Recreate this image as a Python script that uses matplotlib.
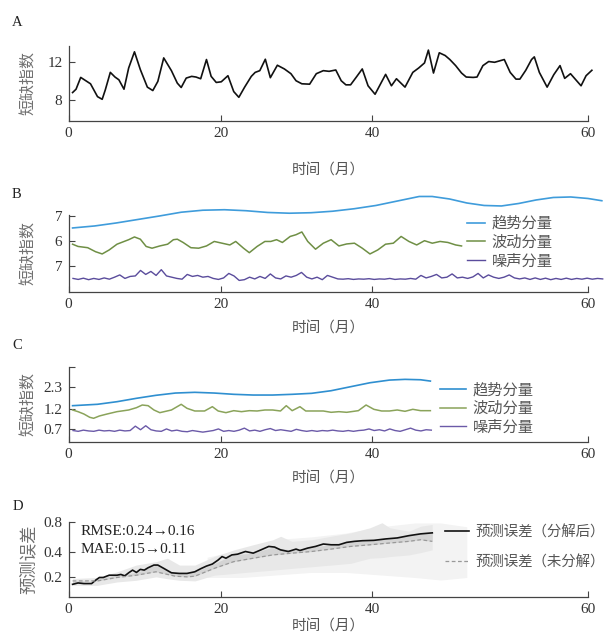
import matplotlib.pyplot as plt
import numpy as np

plt.rcParams['font.family'] = ['Liberation Serif', 'DejaVu Serif']
CJK = ['Noto Sans CJK SC', 'DejaVu Sans']

# x ticks as printed in the original (spacing there is uneven)
xtick_pos = [0, 17.6, 35.1, 60]
xtick_labels = ['0', '20', '40', '60']

# ---- A: raw shortage index
a_month = [0.45, 0.85, 1.39, 1.98, 2.52, 3.33, 3.87, 4.23, 4.81, 5.35,
           5.80, 6.39, 6.93, 7.60, 8.28, 9.09, 9.72, 10.30, 10.98, 11.87,
           12.55, 13.00, 13.58, 14.21, 14.71, 15.25, 15.92, 16.46, 17.05, 17.63,
           18.40, 19.07, 19.66, 20.33, 21.10, 21.55, 22.08, 22.72, 23.30, 24.11,
           24.92, 25.68, 26.27, 26.94, 27.84, 28.61, 29.42, 30.09, 30.86, 31.49,
           32.03, 32.57, 33.24, 33.92, 34.59, 35.40, 36.08, 36.62, 37.29, 37.87,
           38.86, 39.76, 40.44, 41.11, 41.56, 42.15, 42.82, 43.50, 44.04, 44.71,
           45.39, 45.93, 46.74, 47.18, 47.86, 48.53, 49.21, 50.33, 51.01, 51.68,
           52.13, 52.81, 53.48, 53.80, 54.38, 55.28, 56.05, 56.77, 57.31, 57.98,
           59.20, 59.78, 60.45]
a_index = [8.78, 9.13, 10.37, 10.02, 9.70, 8.35, 8.07, 9.06, 10.90, 10.41,
           10.12, 9.13, 11.36, 13.06, 11.19, 9.35, 8.99, 9.95, 12.42, 11.08,
           9.77, 9.31, 10.30, 10.48, 10.41, 10.23, 12.25, 10.48, 9.84, 9.91,
           10.55, 8.88, 8.28, 9.35, 10.48, 10.90, 11.08, 12.28, 10.34, 11.65,
           11.26, 10.76, 10.02, 9.70, 9.66, 10.76, 11.08, 11.01, 11.15, 10.02,
           9.59, 9.59, 10.41, 11.26, 9.49, 8.60, 9.77, 10.69, 9.49, 10.23,
           9.35, 10.90, 11.36, 11.89, 13.24, 10.83, 12.96, 12.67, 12.25, 11.61,
           10.83, 10.41, 10.37, 10.41, 11.61, 12.04, 11.96, 12.25, 10.90, 10.19,
           10.19, 11.12, 12.25, 12.53, 10.90, 9.35, 10.66, 11.61, 10.27, 10.76,
           9.49, 10.55, 11.12]
a_yticks = [8, 12]
a_ylabels = ['8', '12']

# ---- B: decomposition
b_trend_month = [0.45, 3, 5.5, 8, 10.5, 13, 15.5, 18, 20.5, 23, 25.5, 28, 30.5, 33,
                 35.5, 38, 40.5, 42, 44, 46, 48, 50, 52, 54, 56, 58, 60, 61.6]
b_trend = [6.52, 6.60, 6.72, 6.86, 7.00, 7.15, 7.23, 7.25, 7.21, 7.14, 7.11, 7.13, 7.19, 7.29,
           7.42, 7.60, 7.78, 7.78, 7.68, 7.52, 7.42, 7.40, 7.50, 7.64, 7.74, 7.76, 7.70, 7.61]
b_wave_month = [0.45, 1.08, 2.20, 3.10, 3.87, 4.68, 5.58, 6.93, 7.60, 8.28,
                8.95, 9.63, 10.53, 11.43, 12.10, 12.55, 13.22, 14.12, 15.02, 15.92,
                16.82, 17.72, 18.62, 19.30, 20.20, 20.87, 21.77, 22.67, 23.35, 24.02,
                24.69, 25.59, 26.27, 26.94, 27.62, 28.52, 29.42, 30.32, 31.22, 32.12,
                33.02, 33.92, 34.81, 35.71, 36.61, 37.51, 38.41, 39.31, 40.21, 41.11,
                42.01, 42.91, 43.81, 44.71, 45.39]
b_wave = [5.87, 5.78, 5.73, 5.57, 5.48, 5.64, 5.87, 6.05, 6.16, 6.07,
          5.78, 5.71, 5.80, 5.87, 6.05, 6.07, 5.94, 5.73, 5.71, 5.80,
          5.98, 5.91, 5.84, 5.98, 5.71, 5.53, 5.78, 5.98, 5.98, 6.05,
          5.94, 6.18, 6.25, 6.36, 5.98, 5.67, 5.91, 6.05, 5.80, 5.88,
          5.91, 5.71, 5.48, 5.64, 5.87, 5.91, 6.18, 5.98, 5.84, 6.01,
          5.91, 5.98, 5.94, 5.84, 5.80]
b_noise = [4.50, 4.46, 4.51, 4.45, 4.50, 4.46, 4.52, 4.47, 4.55, 4.64,
           4.50, 4.58, 4.60, 4.82, 4.66, 4.78, 4.62, 4.85, 4.60, 4.55,
           4.50, 4.47, 4.66, 4.58, 4.62, 4.55, 4.58, 4.50, 4.46, 4.52,
           4.70, 4.60, 4.42, 4.45, 4.55, 4.48, 4.58, 4.50, 4.68, 4.52,
           4.48, 4.60, 4.55, 4.62, 4.74, 4.55, 4.48, 4.55, 4.45, 4.62,
           4.55, 4.48, 4.47, 4.49, 4.46, 4.48, 4.47, 4.49, 4.46, 4.48,
           4.47, 4.50, 4.46, 4.48, 4.47, 4.50, 4.47, 4.62, 4.52, 4.58,
           4.66, 4.52, 4.55, 4.68, 4.52, 4.55, 4.50, 4.56, 4.70, 4.52,
           4.64, 4.55, 4.50, 4.55, 4.64, 4.52, 4.48, 4.52, 4.46, 4.52,
           4.46, 4.51, 4.45, 4.50, 4.46, 4.51, 4.46, 4.50, 4.47, 4.51,
           4.47, 4.50, 4.48]
b_noise_month = 0.5 + 0.6 * np.arange(len(b_noise))
b_yticks = [5, 6, 7]
b_ylabels = ['7', '6', '7']

# ---- C: decomposition (second series)
c_trend_month = [0.45, 3.33, 5.58, 7.83, 10.08, 12.33, 14.57, 16.82, 19.07, 21.32,
                 23.57, 25.82, 28.07, 30.31, 32.56, 34.81, 37.06, 38.86, 40.66, 41.79]
c_trend = [1.283, 1.318, 1.383, 1.468, 1.543, 1.600, 1.618, 1.600, 1.568, 1.550,
           1.550, 1.568, 1.593, 1.658, 1.758, 1.858, 1.925, 1.943, 1.933, 1.900]
c_wave_month = [0.45, 1.08, 1.75, 2.43, 2.88, 3.55, 4.45, 5.58, 6.93, 7.83,
                8.50, 9.18, 9.85, 10.53, 11.87, 13.00, 13.67, 14.57, 15.70, 16.60,
                17.27, 18.17, 19.07, 19.97, 20.87, 21.77, 22.67, 23.57, 24.47, 25.14,
                25.82, 26.72, 27.39, 28.07, 29.42, 30.32, 31.22, 32.12, 33.47, 34.36,
                35.26, 36.16, 37.06, 37.96, 38.86, 39.76, 40.66, 41.79]
c_wave = [1.175, 1.133, 1.075, 0.992, 0.967, 1.025, 1.075, 1.133, 1.175, 1.233,
          1.300, 1.283, 1.175, 1.108, 1.175, 1.317, 1.217, 1.150, 1.150, 1.258,
          1.150, 1.108, 1.158, 1.133, 1.158, 1.150, 1.175, 1.175, 1.150, 1.283,
          1.158, 1.258, 1.150, 1.150, 1.150, 1.117, 1.133, 1.117, 1.158, 1.300,
          1.192, 1.150, 1.150, 1.175, 1.142, 1.192, 1.158, 1.158]
c_noise = [0.66, 0.64, 0.67, 0.65, 0.64, 0.67, 0.65, 0.66, 0.64, 0.67,
           0.65, 0.66, 0.77, 0.68, 0.78, 0.68, 0.65, 0.64, 0.70, 0.65,
           0.67, 0.64, 0.63, 0.66, 0.64, 0.62, 0.64, 0.66, 0.70, 0.64,
           0.66, 0.64, 0.67, 0.72, 0.65, 0.67, 0.64, 0.68, 0.71, 0.66,
           0.68, 0.66, 0.64, 0.69, 0.66, 0.64, 0.66, 0.64, 0.66, 0.65,
           0.67, 0.65, 0.64, 0.66, 0.64, 0.66, 0.67, 0.70, 0.66, 0.68,
           0.65, 0.70, 0.66, 0.64, 0.68, 0.72, 0.67, 0.65, 0.68, 0.67]
c_noise_month = 0.5 + 0.6 * np.arange(len(c_noise))
c_yticks = [0.7, 1.2, 1.75, 2.26]
c_ylabels = ['0.7', '1.2', '2.3', '']

comp_labels = ['趋势分量', '波动分量', '噪声分量']

# ---- D: forecast error
d_month = [0.45, 1.08, 1.75, 2.65, 3.10, 3.55, 4.00, 4.68, 5.58, 6.03,
           6.48, 6.93, 7.38, 7.83, 8.28, 8.73, 9.18, 9.85, 10.30, 10.98,
           11.87, 12.77, 13.67, 14.57, 15.25, 15.92, 16.60, 17.27, 17.72, 18.17,
           18.85, 19.52, 20.42, 21.32, 22.22, 23.12, 23.79, 24.47, 25.37, 26.27,
           26.72, 27.62, 28.52, 29.42, 30.32, 31.22, 32.12, 33.02, 33.92, 35.26,
           36.61, 37.96, 39.31, 40.66, 42.01]
d_after = [0.146, 0.157, 0.152, 0.152, 0.178, 0.200, 0.200, 0.218, 0.218, 0.224,
           0.213, 0.237, 0.258, 0.240, 0.264, 0.258, 0.277, 0.298, 0.298, 0.272,
           0.237, 0.232, 0.232, 0.245, 0.269, 0.290, 0.306, 0.338, 0.365, 0.352,
           0.378, 0.384, 0.405, 0.392, 0.418, 0.445, 0.440, 0.418, 0.405, 0.424,
           0.413, 0.432, 0.445, 0.464, 0.458, 0.458, 0.477, 0.485, 0.490, 0.493,
           0.504, 0.512, 0.530, 0.544, 0.552]
d_before_month = [0.45, 3.33, 5.58, 7.83, 10.08, 12.32, 13.67, 14.57, 16.82, 19.07,
                  21.32, 23.57, 25.82, 28.07, 30.32, 32.57, 34.81, 37.06, 39.31, 40.66, 42.01]
d_before = [0.173, 0.173, 0.200, 0.218, 0.245, 0.210, 0.205, 0.210, 0.272, 0.325,
            0.352, 0.378, 0.392, 0.405, 0.424, 0.445, 0.458, 0.472, 0.485, 0.498, 0.485]
# the "after" error read at the "before" months, for the shaded gap between the two
d_after_at_before = [0.146, 0.190, 0.218, 0.240, 0.298, 0.235, 0.232, 0.245, 0.310, 0.380,
                     0.392, 0.440, 0.415, 0.440, 0.458, 0.480, 0.492, 0.506, 0.530, 0.544, 0.552]
band_month = [0.45, 3.3, 5.6, 7.8, 10.1, 11.4, 12.8, 14.6, 16.8, 19.1, 21.3, 23.6,
              24.5, 25.8, 28.1, 30.3, 32.6, 34.8, 36.2, 37.1, 39.3, 40.7, 42.0]
band_hi = [0.192, 0.200, 0.245, 0.298, 0.325, 0.352, 0.298, 0.298, 0.365, 0.418, 0.458, 0.498,
           0.525, 0.485, 0.498, 0.525, 0.552, 0.592, 0.632, 0.592, 0.565, 0.605, 0.618]
band_lo = [0.138, 0.138, 0.165, 0.178, 0.205, 0.190, 0.178, 0.173, 0.218, 0.232, 0.245, 0.258,
           0.264, 0.272, 0.285, 0.298, 0.312, 0.352, 0.357, 0.365, 0.378, 0.397, 0.418]
outer_month = [16, 20, 24, 28, 32, 36, 40, 43, 46]
outer_hi = [0.36, 0.42, 0.50, 0.52, 0.55, 0.60, 0.63, 0.63, 0.60]
outer_lo = [0.20, 0.20, 0.22, 0.24, 0.24, 0.22, 0.20, 0.18, 0.20]
d_yticks = [0.2, 0.4, 0.64]
d_ylabels = ['0.2', '0.4', '0.8']


def style(ax, ylim, yticks, ylabels, ylabel, xlabel_y, ysize=11.5):
    ax.set_xlim(0, 60)
    ax.set_ylim(*ylim)
    ax.spines['top'].set_visible(False)
    ax.spines['right'].set_visible(False)
    for s in ['left', 'bottom']:
        ax.spines[s].set_color('#444444')
        ax.spines[s].set_linewidth(0.9)
    ax.set_xticks(xtick_pos, xtick_labels)
    ax.set_yticks(yticks, ylabels)
    ax.tick_params(direction='in', length=4.5, width=0.8, color='#444444',
                   labelsize=11, labelcolor='#333333', pad=4.5)
    ax.set_ylabel(ylabel, family=CJK, fontsize=ysize, color='#707070')
    ax.yaxis.label.set_va('center')
    ax.yaxis.set_label_coords(-0.077, 0.5)
    ax.set_xlabel('时间（月）', family=CJK, fontsize=10.5, color='#555555')
    ax.xaxis.label.set_va('center')
    ax.xaxis.set_label_coords(0.5, xlabel_y)


def legend(ax, handles, anchor, hlen, lspace, size=11):
    leg = ax.legend(handles=handles, loc='upper left', bbox_to_anchor=anchor,
                    bbox_transform=fig.transFigure, frameon=False,
                    prop={'family': CJK, 'size': size}, handlelength=hlen,
                    handletextpad=0.45, labelspacing=lspace, borderpad=0,
                    borderaxespad=0)
    for t in leg.get_texts():
        t.set_color('#555555')


fig = plt.figure(figsize=(6.1, 6.36), dpi=100)
left, width = 0.1126, 0.8513

# A
ax_a = fig.add_axes([left, 0.8102, width, 0.1179])
ax_a.plot(a_month, a_index, color='#111111', lw=1.2, clip_on=False)
style(ax_a, (5.82, 13.7), a_yticks, a_ylabels, '短缺指数', -0.671)

# B
ax_b = fig.add_axes([left, 0.5414, width, 0.1206])
l1, = ax_b.plot(b_trend_month, b_trend, color='#3f9cdb', lw=1.2, clip_on=False, label=comp_labels[0])
l2, = ax_b.plot(b_wave_month, b_wave, color='#6f8f45', lw=1.1, clip_on=False, label=comp_labels[1])
l3, = ax_b.plot(b_noise_month, b_noise, color='#5a4c9c', lw=1.0, clip_on=False, label=comp_labels[2])
style(ax_b, (3.97, 7.04), b_yticks, b_ylabels, '短缺指数', -0.486)
legend(ax_b, [l1, l2, l3], (0.765, 0.662), 1.2, 0.12)

# C
ax_c = fig.add_axes([left, 0.3055, width, 0.1179])
m1, = ax_c.plot(c_trend_month, c_trend, color='#2f8fd0', lw=1.2, label=comp_labels[0])
m2, = ax_c.plot(c_wave_month, c_wave, color='#8aa35a', lw=1.1, label=comp_labels[1])
m3, = ax_c.plot(c_noise_month, c_noise, color='#6b5aa8', lw=1.0, label=comp_labels[2])
style(ax_c, (0.38, 2.26), c_yticks, c_ylabels, '短缺指数', -0.497)
legend(ax_c, [m1, m2, m3], (0.7213, 0.40), 1.7, 0.1)

# D
ax_d = fig.add_axes([left, 0.0621, width, 0.1176])
ax_d.fill_between(outer_month, outer_lo, outer_hi, color='#f3f3f3', lw=0)
ax_d.fill_between(band_month, band_lo, band_hi, color='#e8e8e8', lw=0)
ax_d.fill_between(d_before_month, d_before, d_after_at_before, color='#d4d4d4', lw=0)
n1, = ax_d.plot(d_month, d_after, color='#111111', lw=1.2, label='预测误差（分解后）')
n2, = ax_d.plot(d_before_month, d_before, color='#999999', lw=0.9, ls=(0, (3, 2)),
                label='预测误差（未分解）')
style(ax_d, (0.05, 0.64), d_yticks, d_ylabels, '预测误差', -0.408, ysize=12.5)
ax_d.text(0.022, 0.866, 'RMSE:0.24→0.16', transform=ax_d.transAxes, fontsize=11,
          color='#222222', va='center')
ax_d.text(0.022, 0.622, 'MAE:0.15→0.11', transform=ax_d.transAxes, fontsize=11,
          color='#222222', va='center')
legend(ax_d, [n1, n2], (0.7295, 0.1745), 1.65, 1.1, size=10.4)

# panel letters
for letter, x, y in [('A', 12, 23), ('B', 12, 195), ('C', 12, 345), ('D', 13, 506)]:
    fig.text(x / 610, 1 - y / 636, letter, fontsize=10.5, color='#222222',
             ha='left', va='center')

fig.savefig('out.png', dpi=100)
